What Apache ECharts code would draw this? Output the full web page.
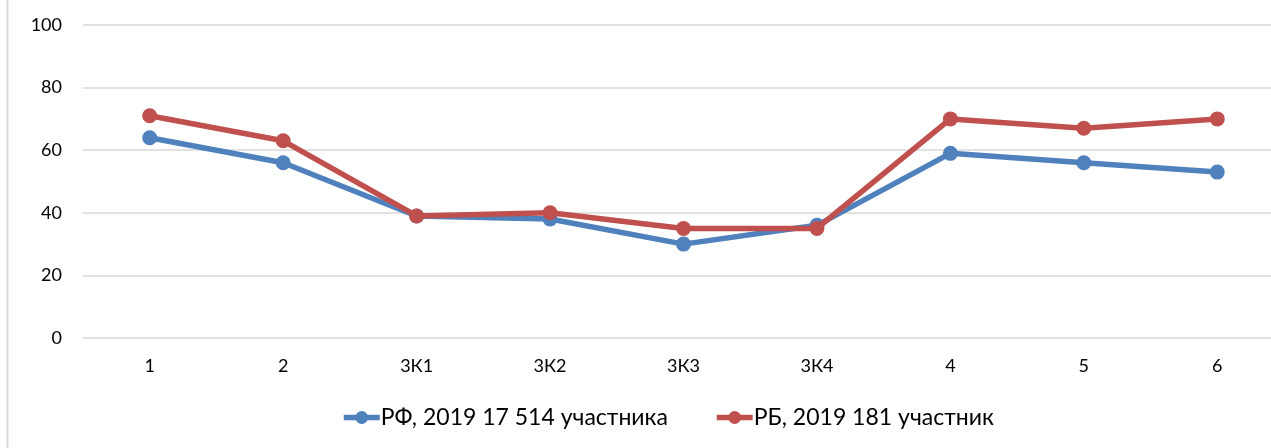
<!DOCTYPE html>
<html>
<head>
<meta charset="utf-8">
<script src="https://cdn.jsdelivr.net/npm/echarts@6/dist/echarts.min.js"></script>
<style>
  html, body { margin: 0; padding: 0; background: #ffffff; overflow: hidden; }
  #wrap { width: 1271px; height: 448px; overflow: hidden; }
  /* the plot runs past the right edge, so the canvas is a little wider */
  #chart { width: 1284px; height: 448px; }
</style>
</head>
<body>
<div id="wrap"><div id="chart"></div></div>
<script>
// Task categories along the x axis
const categories = ['1', '2', '3К1', '3К2', '3К3', '3К4', '4', '5', '6'];

// Series names and results (percent)
const seriesNames = ['РФ, 2019 17 514 участника', 'РБ, 2019 181 участник'];
const rfValues = [64, 56, 39, 38, 30, 36, 59, 56, 53];
const rbValues = [71, 63, 39, 40, 35, 35, 70, 67, 70];

// Y axis range
const yMin = 0;
const yMax = 100;
const yStep = 20;

const FONT = 'Lato, "Open Sans", sans-serif';
const BLUE = '#4f81bd';
const RED = '#c0504d';

const chart = echarts.init(document.getElementById('chart'), null, { renderer: 'canvas' });

function lineSeries(name, data, color, z) {
  return {
    name: name,
    type: 'line',
    data: data,
    z: z,
    symbol: 'circle',
    symbolSize: 15,
    showAllSymbol: true,
    lineStyle: { color: color, width: 5.5 },
    itemStyle: { color: color },
    emphasis: { disabled: true },
    animation: false
  };
}

chart.setOption({
  animation: false,
  backgroundColor: '#ffffff',
  grid: { left: 83, top: 25, width: 1201, height: 313, containLabel: false },
  graphic: [{
    type: 'line',
    shape: { x1: 7.5, y1: 0, x2: 7.5, y2: 448 },
    style: { stroke: '#d9d9d9', lineWidth: 2 }
  }],
  legend: {
    data: seriesNames,
    bottom: 14,
    left: 336,
    itemWidth: 36,
    itemHeight: 16,
    itemGap: 46,
    lineStyle: { width: 5.5 },
    textStyle: { fontFamily: FONT, fontSize: 23, color: '#000000', padding: [0, 0, 0, -4] }
  },
  xAxis: {
    type: 'category',
    data: categories,
    boundaryGap: true,
    axisLine: { show: false },
    axisTick: { show: false },
    axisLabel: { fontFamily: FONT, fontSize: 18, color: '#000000', margin: 19 }
  },
  yAxis: {
    type: 'value',
    min: yMin,
    max: yMax,
    interval: yStep,
    axisLine: { show: false },
    axisTick: { show: false },
    splitLine: { lineStyle: { color: '#d9d9d9', width: 1.5 } },
    axisLabel: { fontFamily: FONT, fontSize: 18, color: '#000000', margin: 21 }
  },
  series: [
    lineSeries(seriesNames[0], rfValues, BLUE, 2),
    lineSeries(seriesNames[1], rbValues, RED, 3)
  ]
});
</script>
</body>
</html>
